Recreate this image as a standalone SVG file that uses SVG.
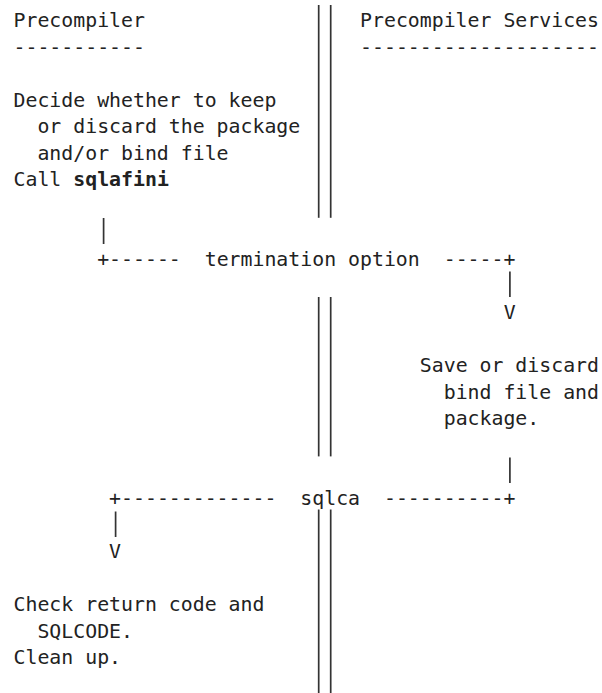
<svg xmlns="http://www.w3.org/2000/svg" width="602" height="693" viewBox="0 0 602 693">
<style>
  text { font-family: "DejaVu Sans Mono", "Liberation Mono", monospace; font-size: 19.85px; fill: #222; }
  .b { font-weight: bold; }
  .bar { stroke: #333; stroke-width: 1.7; fill: none; }
</style>
<rect width="602" height="693" fill="#fff"/>
<g id="precompiler-header">
  <text x="13.5" y="27">Precompiler</text>
  <text x="13.5" y="53.55">-----------</text>
</g>
<g id="services-header">
  <text x="360.05" y="27">Precompiler Services</text>
  <text x="360.05" y="53.55">--------------------</text>
</g>
<g id="decide">
  <text x="13.5" y="106.65">Decide whether to keep</text>
  <text x="37.4" y="133.2">or discard the package</text>
  <text x="37.4" y="159.75">and/or bind file</text>
  <text x="13.5" y="186.3">Call <tspan class="b">sqlafini</tspan></text>
</g>
<g id="save">
  <text x="419.8" y="372.15">Save or discard</text>
  <text x="443.7" y="398.7">bind file and</text>
  <text x="443.7" y="425.25">package.</text>
</g>
<g id="check">
  <text x="13.5" y="611.1">Check return code and</text>
  <text x="37.4" y="637.65">SQLCODE.</text>
  <text x="13.5" y="664.2">Clean up.</text>
</g>
<g id="connectors">
  <g id="boundary">
    <line class="bar" x1="318.7" y1="5" x2="318.7" y2="217.8"/>
    <line class="bar" x1="330.7" y1="5" x2="330.7" y2="217.8"/>
    <line class="bar" x1="318.7" y1="297" x2="318.7" y2="456.4"/>
    <line class="bar" x1="330.7" y1="297" x2="330.7" y2="456.4"/>
    <line class="bar" x1="318.7" y1="509.5" x2="318.7" y2="693"/>
    <line class="bar" x1="330.7" y1="509.5" x2="330.7" y2="693"/>
  </g>
  <g id="termination">
    <line class="bar" x1="103.6" y1="218" x2="103.6" y2="244"/>
    <text x="97.15" y="265.95">+------</text>
    <text x="204.7" y="265.95">termination option</text>
    <text x="443.7" y="265.95">-----+</text>
    <line class="bar" x1="509.9" y1="271.5" x2="509.9" y2="297"/>
    <text x="503.65" y="319.05">V</text>
  </g>
  <g id="sqlca">
    <line class="bar" x1="509.9" y1="457.5" x2="509.9" y2="483"/>
    <text x="109.1" y="504.9">+-------------</text>
    <text x="300.3" y="504.9">sqlca</text>
    <text x="383.95" y="504.9">----------+</text>
    <line class="bar" x1="115.6" y1="511.5" x2="115.6" y2="537"/>
    <text x="109.1" y="558">V</text>
  </g>
</g>
</svg>
